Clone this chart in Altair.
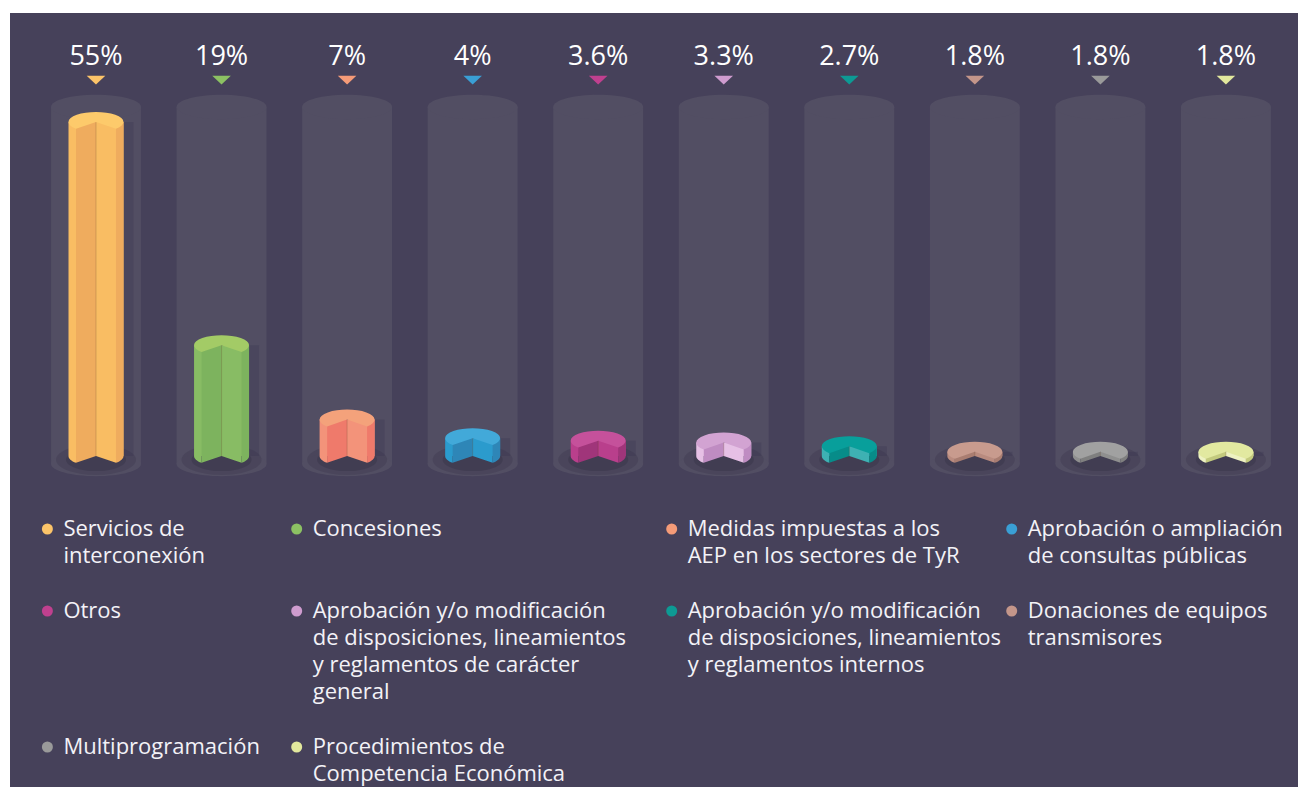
import altair as alt
import pandas as pd

# ---- data -------------------------------------------------------------
categories = [
    "Servicios de|interconexión",
    "Concesiones",
    "Medidas impuestas a los|AEP en los sectores de TyR",
    "Aprobación o ampliación|de consultas públicas",
    "Otros",
    "Aprobación y/o modificación|de disposiciones, lineamientos|y reglamentos de carácter|general",
    "Aprobación y/o modificación|de disposiciones, lineamientos|y reglamentos internos",
    "Donaciones de equipos|transmisores",
    "Multiprogramación",
    "Procedimientos de|Competencia Económica",
]
values = [55, 19, 7, 4, 3.6, 3.3, 2.7, 1.8, 1.8, 1.8]
value_labels = ["55%", "19%", "7%", "4%", "3.6%", "3.3%", "2.7%", "1.8%", "1.8%", "1.8%"]

# ---- styles -----------------------------------------------------------
legend_colors = ["#fcc469", "#8cc163", "#f59b78", "#3a9fd5", "#c0408f",
                 "#cf9ccf", "#0d9a94", "#c4968a", "#9a9a9a", "#e2e89d"]
top_colors = ["#fdca6b", "#a3cb66", "#f4a27b", "#42a9d9", "#c5519b",
              "#d2a3d2", "#089f9b", "#c89b8e", "#a1a1a1", "#e2e9a0"]
light_colors = ["#f9bd63", "#88bc64", "#f3937a", "#2b9bcd", "#b93f8c",
                "#e6c0e5", "#3eb1b3", "#b98b7f", "#8f8f8f", "#eef2c2"]
dark_colors = ["#efac5e", "#7db35e", "#ef7a6b", "#2e86b7", "#a0357a",
               "#bf8cc2", "#078c89", "#a97d71", "#7f7f7f", "#c3ca7e"]

BG = "#46415a"
TRACK = "#524e63"

# legend grid: 4 columns, every entry of a row padded to the row's line count
NCOL = 4
n = len(categories)
n_lines = [c.count("|") + 1 for c in categories]
row_max = {}
for i in range(n):
    row_max[i // NCOL] = max(row_max.get(i // NCOL, 0), n_lines[i])
legend_text = [categories[i] + "|" * (row_max[i // NCOL] - n_lines[i]) for i in range(n)]

df = pd.DataFrame({"idx": list(range(n)), "cat": categories, "leg": legend_text,
                   "value": values, "label": value_labels})

W, H = 1288, 774
XDOM = [-0.685, 9.574]
YDOM = [-52.26, 72.58]
BASE = 1.13          # value level of bar bottoms
TRACK_TOP = 57.42
TRACK_BOT = -0.16
TXT_Y = 65.55
TRI_Y = 61.77

HALF = 0.219     # half bar width (index units)
INNER = 0.159    # wedge edge offset
TRACK_HALF = 0.358

LEGEND_X = [26.4, 275.7, 650.7, 990.7]
LEGEND_Y = 505

xs = alt.Scale(domain=XDOM, nice=False, zero=False)
ys = alt.Scale(domain=YDOM, nice=False, zero=False)

def X(f):
    return alt.X(f, type="quantitative", scale=xs, axis=None)

def Y(f):
    return alt.Y(f, type="quantitative", scale=ys, axis=None)

def YD(v):
    return alt.Y(datum=v, scale=ys, axis=None)

def col(rng):
    return alt.Color("cat:N", scale=alt.Scale(domain=categories, range=rng), legend=None)

base = alt.Chart(df)

ELL_TRACK = "M-1,0 A1,0.27 0 1,1 1,0 A1,0.27 0 1,1 -1,0 Z"
ELL_SHADOW = "M-1,0 A1,0.38 0 1,1 1,0 A1,0.38 0 1,1 -1,0 Z"
PAC = "M0,0 L-0.727,0.25 A1,0.364 0 1,1 0.727,0.25 Z"
BOT_LIGHT = "M-1,0 A1,0.364 0 0,0 -0.727,0.25 L-0.727,0 Z M0,0 L0.727,0 L0.727,0.25 Z"
BOT_DARK = "M0,0 L-0.727,0 L-0.727,0.25 Z M1,0 A1,0.364 0 0,1 0.727,0.25 L0.727,0 Z"
TRI = "M-1,-0.47 L1,-0.47 L0,0.47 Z"

track_rect = base.transform_calculate(
    xl=f"datum.idx - {TRACK_HALF}", xr=f"datum.idx + {TRACK_HALF}"
).mark_rect(color=TRACK).encode(x=X("xl"), x2="xr", y=YD(TRACK_TOP), y2=alt.datum(TRACK_BOT))

track_top = base.mark_point(shape=ELL_TRACK, filled=True, size=8100, opacity=1, color=TRACK).encode(
    x=X("idx"), y=YD(TRACK_TOP))
track_bot = base.mark_point(shape=ELL_TRACK, filled=True, size=8100, opacity=1, color=TRACK).encode(
    x=X("idx"), y=YD(TRACK_BOT))

shadow1 = base.mark_point(shape=ELL_SHADOW, filled=True, size=6400, opacity=0.22, color="#2e2b40").encode(
    x=X("idx"), y=YD(BASE - 0.6))
shadow2 = base.mark_point(shape=ELL_SHADOW, filled=True, size=3600, opacity=0.3, color="#2e2b40").encode(
    x=X("idx"), y=YD(BASE - 0.6))
side_shadow = base.transform_calculate(
    xl=f"datum.idx + {HALF}", xr=f"datum.idx + {HALF + 0.08}"
).mark_rect(color="#34314a", opacity=0.25).encode(
    x=X("xl"), x2="xr", y=Y("value"), y2=alt.datum(BASE))

body = base.transform_calculate(
    xl=f"datum.idx - {HALF}", xr=f"datum.idx + {HALF}"
).mark_rect().encode(x=X("xl"), x2="xr", y=Y("value"), y2=alt.datum(BASE), color=col(light_colors))

inner_left = base.transform_calculate(
    xl=f"datum.idx - {INNER}", xr="datum.idx"
).mark_rect().encode(x=X("xl"), x2="xr", y=Y("value"), y2=alt.datum(BASE), color=col(dark_colors))

outer_right = base.transform_calculate(
    xl=f"datum.idx + {INNER}", xr=f"datum.idx + {HALF}"
).mark_rect().encode(x=X("xl"), x2="xr", y=Y("value"), y2=alt.datum(BASE), color=col(dark_colors))

edge = base.mark_rule(strokeWidth=1, opacity=0.25, color="#6b4a2a").encode(
    x=X("idx"), y=Y("value"), y2=alt.datum(BASE))

bot_light = base.mark_point(shape=BOT_LIGHT, filled=True, size=3025, opacity=1).encode(
    x=X("idx"), y=YD(BASE), color=col(light_colors))
bot_dark = base.mark_point(shape=BOT_DARK, filled=True, size=3025, opacity=1).encode(
    x=X("idx"), y=YD(BASE), color=col(dark_colors))

top = base.mark_point(shape=PAC, filled=True, size=3025, opacity=1).encode(
    x=X("idx"), y=Y("value"), color=col(top_colors))

# one triangle layer (and one legend column) per legend column
tri_layers = []
for c in range(NCOL):
    members = [i for i in range(n) if i % NCOL == c]
    lg = alt.Legend(
        orient="none", legendX=LEGEND_X[c], legendY=LEGEND_Y, direction="vertical", columns=1,
        title=None, labelFont="Open Sans", labelFontSize=22, labelColor="#f3f2f7",
        symbolType="circle", symbolSize=121, symbolStrokeWidth=0, symbolOpacity=1,
        labelOffset=5, rowPadding=33, labelExpr="split(datum.label, '|')",
        labelLimit=2000, padding=0, offset=0,
    )
    tri_layers.append(
        base.transform_filter(f"datum.idx % {NCOL} == {c}").mark_point(
            shape=TRI, filled=True, size=346, opacity=1
        ).encode(
            x=X("idx"), y=YD(TRI_Y),
            color=alt.Color("leg:N", legend=lg, scale=alt.Scale(
                domain=[legend_text[i] for i in members],
                range=[legend_colors[i] for i in members])),
        )
    )

txt = base.mark_text(font="Open Sans", fontSize=27, color="#ffffff", baseline="middle", align="center").encode(
    x=X("idx"), y=YD(TXT_Y), text="label:N")

chart = alt.layer(
    track_rect, track_top, track_bot, shadow1, shadow2, side_shadow,
    body, inner_left, outer_right, edge, bot_light, bot_dark, top, *tri_layers, txt
).resolve_scale(color="independent").properties(
    width=W, height=H,
    padding={"left": 2, "top": 5, "right": 0, "bottom": 0},
    autosize=alt.AutoSizeParams(type="none"),
    background="#ffffff",
).configure(
    style={"guide-label": {"lineHeight": 27}},
    view=alt.ViewConfig(fill=BG, strokeWidth=0, stroke="transparent"),
)

chart.save("out.html", embed_options={"renderer": "svg", "actions": False})
